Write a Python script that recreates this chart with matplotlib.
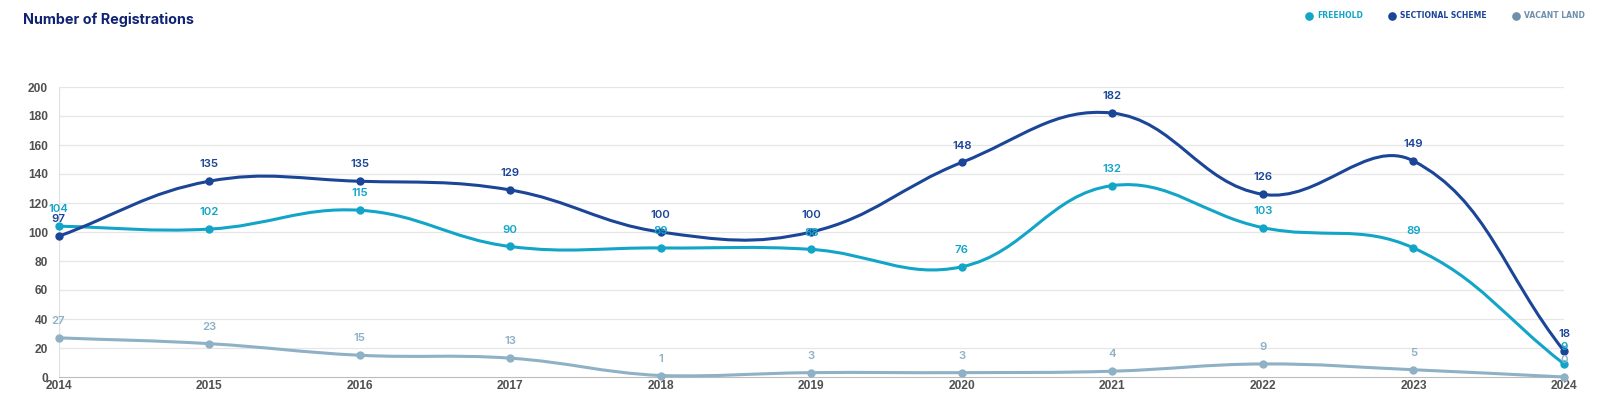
import matplotlib.pyplot as plt
import numpy as np
from matplotlib.path import Path
from matplotlib.patches import PathPatch
from matplotlib.lines import Line2D

# 數據
years = [2014, 2015, 2016, 2017, 2018, 2019, 2020, 2021, 2022, 2023, 2024]
freehold = [104, 102, 115, 90, 89, 88, 76, 132, 103, 89, 9]
sectional = [97, 135, 135, 129, 100, 100, 148, 182, 126, 149, 18]
vacant = [27, 23, 15, 13, 1, 3, 3, 4, 9, 5, 0]

series = [
    ('FREEHOLD', freehold, '#12a5c8', '#12a5c8'),
    ('SECTIONAL SCHEME', sectional, '#1b4597', '#1b4597'),
    ('VACANT LAND', vacant, '#8eb1c5', '#6f8faa'),
]

W, H = 1600, 411
fig = plt.figure(figsize=(W / 100, H / 100), dpi=100)
x0, x1, y0, y1 = 58.5, 1564, 377, 87
ax = fig.add_axes([x0 / W, 1 - y0 / H, (x1 - x0) / W, (y0 - y1) / H])
ax.set_xlim(2014, 2024)
ax.set_ylim(0, 200)

# 像素比例，用於樣條張力計算
sx = (x1 - x0) / 10.0
sy = (y0 - y1) / 200.0


def spline_path(xs, ys, t=0.4):
    """Chart.js 風格的貝塞爾曲線"""
    px = np.array(xs, float) * sx
    py = np.array(ys, float) * sy
    n = len(px)
    cp = []
    for i in range(n):
        pp = (px[max(i - 1, 0)], py[max(i - 1, 0)])
        cur = (px[i], py[i])
        nx = (px[min(i + 1, n - 1)], py[min(i + 1, n - 1)])
        d01 = np.hypot(cur[0] - pp[0], cur[1] - pp[1])
        d12 = np.hypot(nx[0] - cur[0], nx[1] - cur[1])
        tot = d01 + d12
        s01 = d01 / tot if tot else 0
        s12 = d12 / tot if tot else 0
        fa, fb = t * s01, t * s12
        c1 = (cur[0] - fa * (nx[0] - pp[0]), max(cur[1] - fa * (nx[1] - pp[1]), 0))
        c2 = (cur[0] + fb * (nx[0] - pp[0]), max(cur[1] + fb * (nx[1] - pp[1]), 0))
        cp.append((c1, c2))
    verts = [(px[0], py[0])]
    codes = [Path.MOVETO]
    for i in range(n - 1):
        verts += [cp[i][1], cp[i + 1][0], (px[i + 1], py[i + 1])]
        codes += [Path.CURVE4] * 3
    verts = [(vx / sx, vy / sy) for vx, vy in verts]
    return Path(verts, codes)


# 網格
for v in range(20, 201, 20):
    ax.axhline(v, color='#e6e6e6', lw=0.9, zorder=0)
ax.axvline(2014, color='#e0e0e0', lw=0.9, zorder=0)

for name, vals, col, _ in series:
    ax.add_patch(PathPatch(spline_path(years, vals), fill=False, edgecolor=col,
                           lw=2.2, zorder=3, clip_on=False))
    ax.plot(years, vals, 'o', color=col, ms=5, zorder=4, clip_on=False)
    for xv, yv in zip(years, vals):
        ax.annotate(str(yv), (xv, yv), xytext=(0, 10), textcoords='offset points',
                    ha='center', va='baseline', color=col, fontsize=8.2,
                    fontweight='semibold', family='Inter', zorder=5)

for s in ['top', 'right', 'left']:
    ax.spines[s].set_visible(False)
ax.spines['bottom'].set_color('#bdbdbd')
ax.set_xticks(years)
ax.set_yticks(range(0, 201, 20))
ax.tick_params(length=0, labelsize=8.6, labelcolor='#505050')
ax.tick_params(axis='x', pad=2)
ax.tick_params(axis='y', pad=7.5)
for lab in ax.get_xticklabels() + ax.get_yticklabels():
    lab.set_fontweight('bold')
    lab.set_family('Liberation Sans')

fig.text(23 / W, 1 - 20 / H, 'Number of Registrations', fontsize=10.3,
         fontweight='bold', color='#102372', family='Inter', va='center')

# 圖例
leg_dot = [1309, 1392, 1516]
for (name, vals, col, tcol), lx in zip(series, leg_dot):
    fig.add_artist(Line2D([lx / W], [1 - 16 / H], marker='o', color=tcol,
                          ms=5.2, ls='none'))
    fig.text((lx + 8) / W, 1 - 16 / H, name, fontsize=5.5, fontweight='bold',
             color=tcol, family='DejaVu Sans', va='center', ha='left')

fig.savefig('out.png', dpi=100)
